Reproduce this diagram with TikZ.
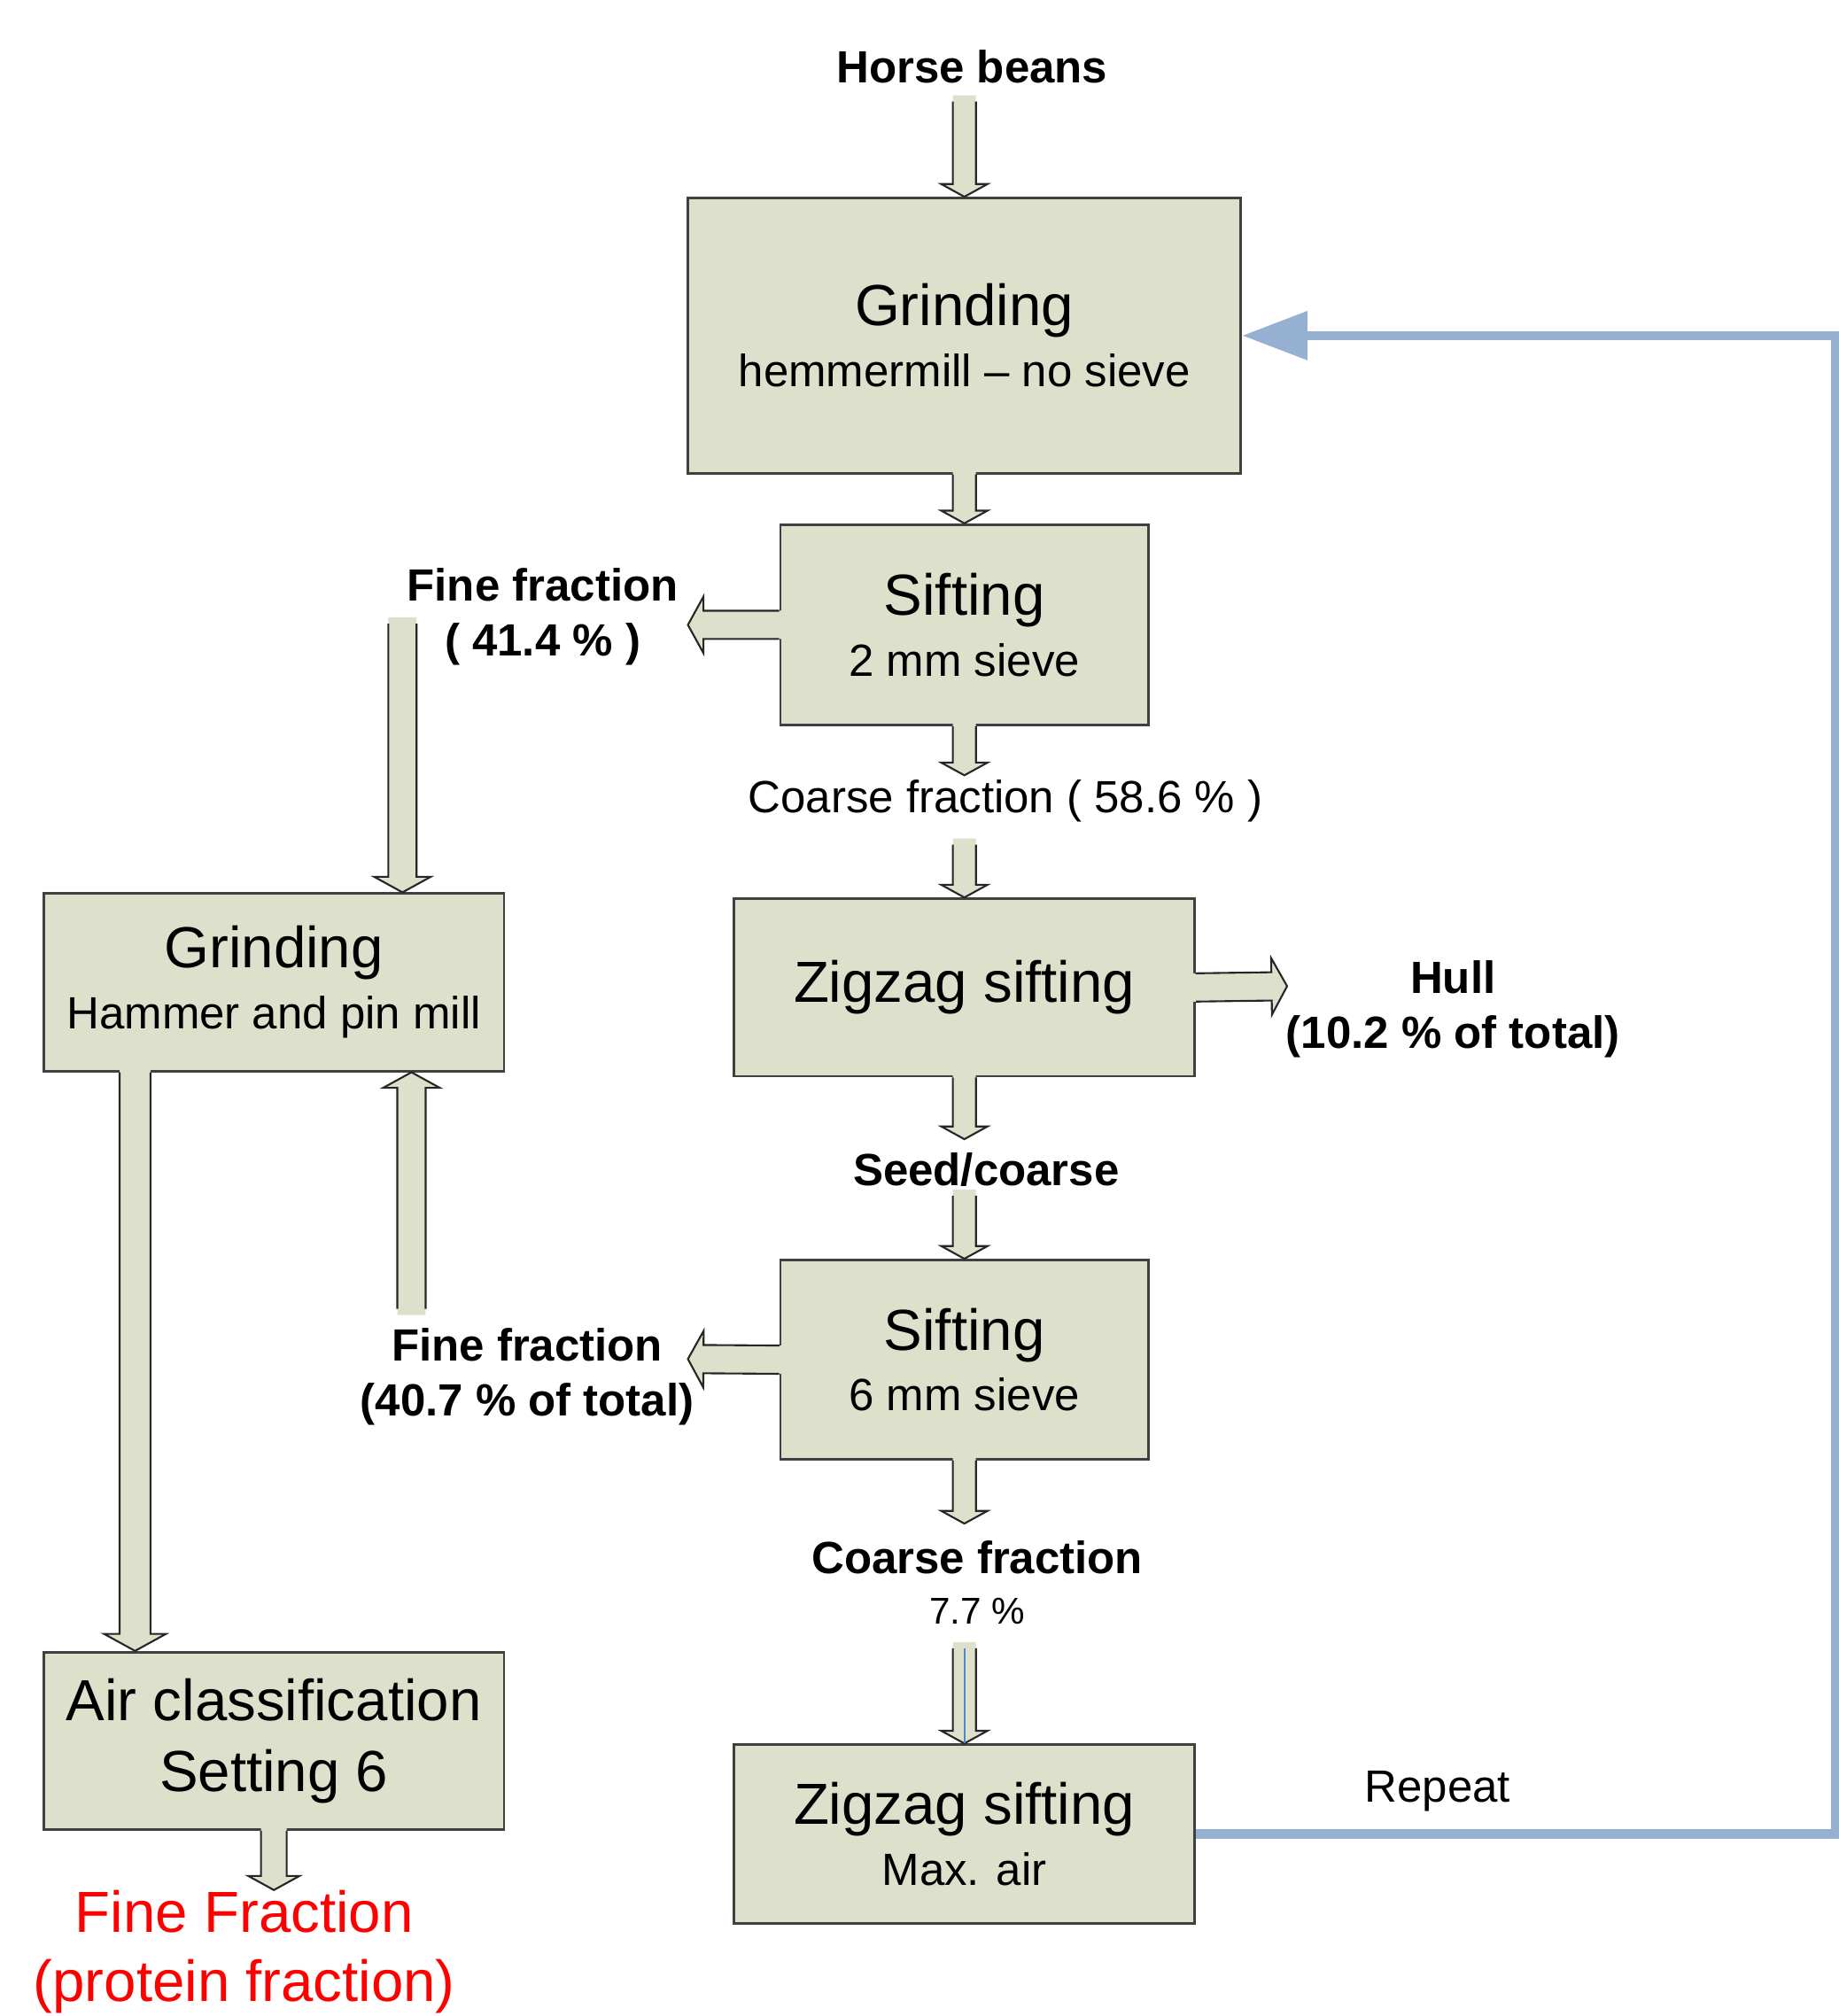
\documentclass[tikz,border=0pt]{standalone}
\usepackage{fontspec}
\setmainfont{Liberation Sans}
\usetikzlibrary{arrows.meta,calc}
\definecolor{boxfill}{RGB}{221,225,203}
\definecolor{repblue}{RGB}{149,176,208}
\definecolor{lineblue}{RGB}{84,134,196}
\newcommand{\upx}{0.014517cm}
\newcommand{\subtxt}[1]{{\fontsize{14.5}{19.6}\selectfont #1}}
% hollow block arrow: [shaft half width] {from} {to}
\newcommand{\blk}[3][9]{%
  \coordinate (bs) at (#2); \coordinate (be) at (#3);
  \coordinate (bb) at ($(bs)!-2pt!(be)$);
  \coordinate (bh) at ($(be)!1.1*#1*\upx!(bs)$);
  \fill[arrfill] ($(bb)!#1*\upx!90:(be)$) -- ($(bh)!#1*\upx!90:(be)$) -- ($(bh)!2*#1*\upx!90:(be)$)
    -- (be) -- ($(bh)!2*#1*\upx!-90:(be)$) -- ($(bh)!#1*\upx!-90:(be)$) -- ($(bb)!#1*\upx!-90:(be)$) -- cycle;
  \draw[arrline] ($(bs)!#1*\upx!90:(be)$) -- ($(bh)!#1*\upx!90:(be)$) -- ($(bh)!2*#1*\upx!90:(be)$)
    -- (be) -- ($(bh)!2*#1*\upx!-90:(be)$) -- ($(bh)!#1*\upx!-90:(be)$) -- ($(bs)!#1*\upx!-90:(be)$);
}
\tikzset{
  pbox/.style 2 args={draw=black!75,line width=0.8pt,fill=boxfill,inner sep=0pt,align=center,
    minimum width=#1*\upx,minimum height=#2*\upx,font=\fontsize{18.6}{19.6}\selectfont},
  plabel/.style={align=center,inner sep=0pt,font=\fontsize{14.5}{17.6}\selectfont\bfseries},
  pnote/.style={align=center,inner sep=0pt,font=\fontsize{14.5}{17.6}\selectfont},
  arrfill/.style={fill=boxfill},
  arrline/.style={draw=black!85,line width=0.6pt,line join=miter},
  rep/.style={draw=repblue,line width=3pt,-{Triangle[length=21pt,width=15pt]}},
}
\begin{document}
\begin{tikzpicture}[x=\upx,y=-\upx]
\useasboundingbox (0,0) rectangle (1430,1568);
% process boxes
\node[pbox={430}{214}] (g1) at (750,261) {Grinding\\\subtxt{hemmermill -- no sieve}};
\node[pbox={286}{156}] (s1) at (750,486) {Sifting\\\subtxt{2 mm sieve}};
\node[pbox={358}{138}] (z1) at (750,768) {Zigzag sifting};
\node[pbox={286}{155}] (s2) at (750,1057.5) {Sifting\\\subtxt{6 mm sieve}};
\node[pbox={358}{139}] (z2) at (750,1426.5) {Zigzag sifting\\\subtxt{Max. air}};
\node[pbox={358}{138}] (g2) at (213,764) {Grinding\\\subtxt{Hammer and pin mill}};
\node[pbox={358}{138},font=\fontsize{18.6}{22.7}\selectfont] (ac) at (213,1354) {Air classification\\Setting 6};
% labels
\node[plabel] (beans) at (756,52) {Horse beans};
\node[plabel] (fine1) at (422,480) {Fine fraction\\( 41.4 \% )};
\node[pnote] (coarse1) at (782,623) {Coarse fraction ( 58.6 \% )};
\node[plabel] (hull) at (1130,785) {Hull\\(10.2 \% of total)};
\node[plabel] (seed) at (767,910) {Seed/coarse};
\node[plabel] (fine2) at (410,1071) {Fine fraction\\(40.7 \% of total)};
\node[plabel,font=\fontsize{14.5}{16.2}\selectfont\bfseries] (coarse2) at (760,1231) {Coarse fraction\\{\mdseries\fontsize{12}{16.2}\selectfont 7.7 \%}};
\node[pnote] (repeat) at (1118,1393) {Repeat};
\node[align=center,inner sep=0pt,text=red,font=\fontsize{18.6}{22.3}\selectfont] (prot) at (190,1518) {Fine Fraction\\(protein fraction)};
% arrow ends
\coordinate (beans-out) at (750,79);
\coordinate (fine1-tip) at (535,486);
\coordinate (fine1-out) at (313,485);
\coordinate (coarse1-tip) at (750,603);
\coordinate (coarse1-out) at (750,657);
\coordinate (hull-tip) at (1001,767);
\coordinate (seed-tip) at (750,886);
\coordinate (seed-out) at (750,930);
\coordinate (fine2-tip) at (535,1057);
\coordinate (fine2-out) at (320,1018);
\coordinate (coarse2-tip) at (750,1185);
\coordinate (coarse2-out) at (750,1282);
\coordinate (g2-out) at ($(g2.south west)!0.2!(g2.south east)$);
\coordinate (prot-tip) at (213,1470);
% block arrows
\blk{beans-out}{g1.north}
\blk{g1.south}{s1.north}
\blk[11]{s1.west}{fine1-tip}
\blk{s1.south}{coarse1-tip}
\blk{coarse1-out}{z1.north}
\blk[11]{z1.east}{hull-tip}
\blk{z1.south}{seed-tip}
\blk{seed-out}{s2.north}
\blk[11]{s2.west}{fine2-tip}
\blk{s2.south}{coarse2-tip}
\blk{coarse2-out}{z2.north}
\draw[lineblue,line width=0.6pt] (coarse2-out) -- (z2.north);
\blk[11]{fine1-out}{g2.north -| fine1-out}
\blk[11]{fine2-out}{g2.south -| fine2-out}
\blk[12]{g2-out}{ac.north -| g2-out}
\blk[10]{ac.south}{prot-tip}
% repeat loop
\draw[rep] (z2.east) -- ++(498,0) |- (g1.east);
\end{tikzpicture}
\end{document}
